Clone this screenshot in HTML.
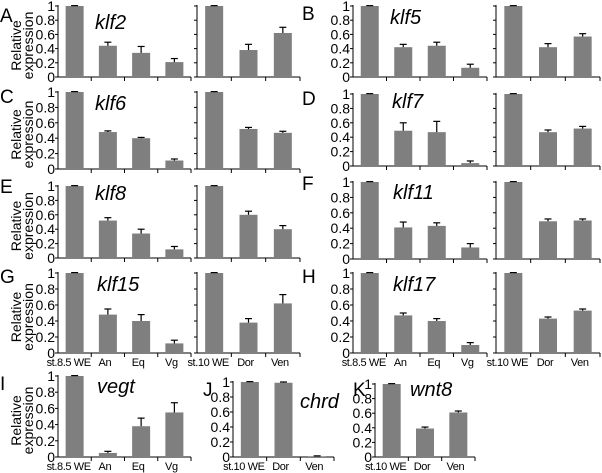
<!DOCTYPE html>
<html><head><meta charset="utf-8">
<style>
html,body{margin:0;padding:0;background:#fff;}
svg{display:block;font-family:"Liberation Sans",Arial,sans-serif;}
</style></head>
<body>
<svg id="fig" width="602" height="473" viewBox="0 0 602 473"></svg>
<script>
// ---- data ----
const geneNames = ["klf2","klf5","klf6","klf7","klf8","klf11","klf15","klf17","vegt","chrd","wnt8"];
const panelLetters = ["A","B","C","D","E","F","G","H","I","J","K"];
const regionCats = ["st.8.5 WE","An","Eq","Vg"];
const dvCats = ["st.10 WE","Dor","Ven"];
const yTicks = [0,0.2,0.4,0.6,0.8,1];
const yTickLabels = ["0","0.2","0.4","0.6","0.8","1"];
const regionVals = [
  [1,0.44,0.34,0.21],[1,0.42,0.44,0.13],[1,0.48,0.40,0.11],[1,0.49,0.47,0.04],
  [1,0.52,0.34,0.12],[1,0.41,0.43,0.15],[1,0.48,0.40,0.12],[1,0.47,0.40,0.10],
  [1,0.05,0.38,0.55]];
const regionErrs = [
  [0.005,0.05,0.09,0.05],[0.005,0.04,0.05,0.05],[0.005,0.015,0.01,0.02],[0.005,0.11,0.15,0.03],
  [0.005,0.04,0.06,0.04],[0.005,0.07,0.04,0.05],[0.005,0.07,0.08,0.04],[0.005,0.03,0.03,0.03],
  [0.005,0.02,0.10,0.12]];
const dvVals = [
  [1,0.38,0.62],[1,0.42,0.57],[1,0.52,0.47],[1,0.47,0.52],
  [1,0.60,0.40],[1,0.49,0.50],[1,0.38,0.62],[1,0.43,0.53],
  null,[1,0.99,0.01],[1,0.39,0.61]];
const dvErrs = [
  [0.005,0.08,0.08],[0.005,0.05,0.04],[0.005,0.02,0.02],[0.005,0.03,0.03],
  [0.005,0.05,0.05],[0.005,0.03,0.02],[0.005,0.05,0.11],[0.005,0.02,0.02],
  null,[0.005,0.01,0.005],[0.005,0.02,0.02]];

const NS="http://www.w3.org/2000/svg";
const svg=document.getElementById('fig');
function mk(tag,attrs,parent){const e=document.createElementNS(NS,tag);for(const k in attrs)e.setAttribute(k,attrs[k]);(parent||svg).appendChild(e);return e;}
const L=[
 {y1:6,y0:77,rx:[58,191],dx:[197,300],lx:0,ly:22,gx:95,gy:29,side:'L'},
 {y1:6,y0:77,rx:[353,487],dx:[496,600],lx:302,ly:20,gx:390,gy:24,side:'R'},
 {y1:92,y0:169,rx:[58,191],dx:[197,300],lx:0,ly:103,gx:95,gy:110,side:'L'},
 {y1:94,y0:166,rx:[353,487],dx:[496,600],lx:302,ly:105,gx:392,gy:108,side:'R'},
 {y1:186,y0:258,rx:[58,191],dx:[197,300],lx:0,ly:193,gx:95,gy:200,side:'L'},
 {y1:182,y0:259,rx:[353,487],dx:[496,600],lx:302,ly:190,gx:393,gy:199,side:'R'},
 {y1:273,y0:353,rx:[58,191],dx:[197,300],lx:0,ly:283,gx:97,gy:291,side:'L'},
 {y1:273,y0:353,rx:[353,487],dx:[496,600],lx:302,ly:283,gx:393,gy:291,side:'R'},
 {y1:376,y0:457,rx:[58,191],dx:null,lx:0,ly:390,gx:97,gy:393,side:'L'},
 {y1:382,y0:457,rx:null,dx:[233,334],lx:203,ly:396,gx:300,gy:408,side:'L'},
 {y1:384,y0:457,rx:null,dx:[375,475],lx:353,ly:396,gx:410,gy:396,side:'L'}
];
const xLabelPanels=[6,7,8,9,10];
const BW=18;

function drawSub(g,cats,vals,errs,xr,p,withLabels,showXLabels,key){
  const yy=v=>p.y0+(p.y1-p.y0)*v;
  const band=(xr[1]-xr[0])/cats.length;
  const axis=mk('g',{},g);
  
  
  mk('line',{x1:xr[0],y1:p.y1-1,x2:xr[0],y2:p.y0,stroke:'#000','stroke-width':1},axis);
  mk('line',{x1:xr[0]-3,y1:p.y0,x2:xr[1],y2:p.y0,stroke:'#000','stroke-width':1},axis);
  yTicks.forEach((t,i)=>{
    mk('line',{x1:xr[0]-3,y1:yy(t),x2:xr[0],y2:yy(t),stroke:'#000','stroke-width':1},axis);
    if(withLabels){
      const tx=mk('text',{x:xr[0]-3,y:yy(t)+5,'text-anchor':'end','font-size':14,fill:'#000'},axis);
      
      
      tx.textContent=yTickLabels[i];
    }
  });
  for(let i=1;i<=cats.length;i++){
    const x=xr[0]+band*i;
    mk('line',{x1:x,y1:p.y0,x2:x,y2:p.y0+4,stroke:'#000','stroke-width':1},axis);
  }
  cats.forEach((c,i)=>{
    const cx=xr[0]+band*(i+0.5);
    const v=vals[i],e=errs[i];
    const r=mk('rect',{x:cx-BW/2,y:yy(v),width:BW,height:p.y0-yy(v),fill:'#7f7f7f'},g);
    
    
    const top=yy(v+e);
    const eb=mk('g',{stroke:'#000','stroke-width':1.2},g);
    
    
    mk('line',{x1:cx,y1:yy(v),x2:cx,y2:top},eb);
    mk('line',{x1:cx-3.5,y1:top,x2:cx+3.5,y2:top},eb);
    if(showXLabels){
      const lx = i===0 ? cx-6 : cx-3;
      const tx=mk('text',{x:lx,y:p.y0+13,'text-anchor':'middle','font-size':11,'letter-spacing':'-0.4',fill:'#000'},g);
      
      
      tx.textContent=c;
    }
  });
}

L.forEach((p,idx)=>{
  const g=mk('g',{});
  
  
  const showX=xLabelPanels.includes(idx);
  if(p.rx) drawSub(g,regionCats,regionVals[idx],regionErrs[idx],p.rx,p,true,showX,geneNames[idx]+'-region');
  if(p.dx) drawSub(g,dvCats,dvVals[idx],dvErrs[idx],p.dx,p,!p.rx,showX,geneNames[idx]+'-dv');
  const lt=mk('text',{x:p.lx,y:p.ly,'font-size':19,fill:'#000'},g);
  
  
  lt.textContent=panelLetters[idx];
  const gt=mk('text',{x:p.gx,y:p.gy,'font-size':20,'font-style':'italic',fill:'#000'},g);
  
  
  gt.textContent=geneNames[idx];
  if(p.side==='L' && p.rx){
    const cy=(p.y0+p.y1)/2+4;
    const yl=mk('text',{transform:'translate(27,'+cy+') rotate(-90)','text-anchor':'middle','font-size':14,fill:'#000'},g);
    
    
    const t1=mk('tspan',{x:0,dy:-6},yl);t1.textContent='Relative';
    const t2=mk('tspan',{x:0,dy:12},yl);t2.textContent='expression';
  }
});
</script>
</body></html>
